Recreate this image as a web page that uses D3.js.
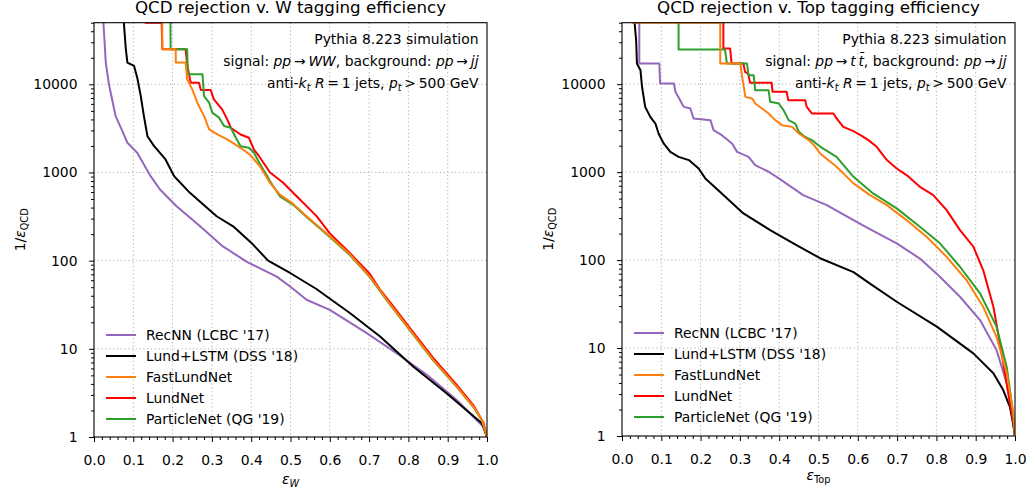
<!DOCTYPE html>
<html>
<head>
<meta charset="utf-8">
<script src="https://cdn.jsdelivr.net/npm/d3@7"></script>
<style>
  body{ margin:0; background:#fff; }
  svg{ display:block; font-family:"DejaVu Sans", sans-serif; }
</style>
</head>
<body>
<svg id="chart" width="1029" height="490"></svg>
<script>
// ---------- data ----------
const legendLabels = ["RecNN (LCBC '17)", "Lund+LSTM (DSS '18)", "FastLundNet", "LundNet", "ParticleNet (QG '19)"];
const seriesColors = ["#9467bd", "#000000", "#ff7f0e", "#ff0000", "#2ca02c"];
const drawOrder = [0, 1, 3, 4, 2];

const xMajor = [0, 0.1, 0.2, 0.3, 0.4, 0.5, 0.6, 0.7, 0.8, 0.9, 1.0];
const yMajor = [1, 10, 100, 1000, 10000];
const yMax = 5e4;

// W tagging: [efficiency, 1/eps_QCD]
const wRecNN = [[0.020,1e6],[0.024,5e4],[0.030,17650],[0.038,10000],[0.055,4350],[0.070,3100],[0.085,2175],[0.110,1675],[0.144,908],[0.168,641],[0.210,414],[0.270,245],[0.328,145],[0.389,97],[0.465,66],[0.499,51],[0.541,36],[0.600,27.7],[0.694,15.1],[0.770,8.9],[0.847,5.07],[0.923,2.63],[0.965,1.70],[0.991,1.31],[1,1]];
const wLundLSTM = [[0.074,1e6],[0.076,5e4],[0.081,25000],[0.085,17650],[0.102,16150],[0.110,11900],[0.119,7360],[0.127,4360],[0.136,2580],[0.153,1990],[0.182,1406],[0.204,908],[0.244,588],[0.312,319],[0.354,245],[0.400,160],[0.443,100],[0.500,72],[0.565,48],[0.651,25.5],[0.728,13.8],[0.812,6.3],[0.897,3.14],[0.957,1.86],[0.987,1.43],[1,1]];
const wFastLundNet = [[0.172,1e6],[0.174,25000],[0.208,25000],[0.208,17650],[0.233,17650],[0.237,11400],[0.250,8770],[0.263,6190],[0.280,4360],[0.293,3080],[0.314,2700],[0.339,2370],[0.373,1906],[0.397,1590],[0.422,1180],[0.448,760],[0.473,562],[0.507,440],[0.541,318],[0.600,189],[0.651,118],[0.702,66],[0.745,36],[0.804,16.4],[0.863,7.5],[0.923,3.73],[0.965,2.21],[0.987,1.56],[1,1]];
const wLundNet = [[0.129,1e6],[0.131,5e4],[0.172,5e4],[0.174,25000],[0.233,25000],[0.237,16900],[0.246,10450],[0.267,10450],[0.272,8610],[0.297,8610],[0.305,6760],[0.326,5200],[0.339,4000],[0.348,3220],[0.373,2700],[0.394,2480],[0.407,1820],[0.420,1530],[0.448,1000],[0.482,760],[0.524,493],[0.567,318],[0.600,204],[0.651,122],[0.702,70.6],[0.728,46.8],[0.762,30.2],[0.804,17.2],[0.863,7.9],[0.923,3.9],[0.965,2.3],[0.991,1.45],[1,1]];
const wParticleNet = [[0.193,1e6],[0.195,25000],[0.237,25000],[0.239,13000],[0.276,13000],[0.280,7360],[0.293,6190],[0.301,4770],[0.318,4190],[0.331,3360],[0.348,3220],[0.361,2480],[0.373,1990],[0.394,1906],[0.407,1675],[0.416,1406],[0.428,1130],[0.441,908],[0.448,795],[0.473,537],[0.507,430],[0.541,312],[0.600,186],[0.651,116],[0.702,65],[0.745,35.5],[0.804,16.2],[0.863,7.4],[0.923,3.7],[0.965,2.2],[0.987,1.55],[1,1]];

// Top tagging
const tRecNN = [[0.025,1e6],[0.027,5e4],[0.044,5e4],[0.044,17200],[0.095,17200],[0.097,10200],[0.132,10200],[0.136,8180],[0.148,6580],[0.157,5520],[0.174,5300],[0.182,4075],[0.225,3900],[0.233,3000],[0.254,2630],[0.280,2120],[0.293,1700],[0.322,1490],[0.339,1200],[0.373,1010],[0.399,848],[0.461,548],[0.521,422],[0.589,285],[0.626,231],[0.699,155],[0.758,104],[0.809,64.6],[0.860,38.3],[0.911,20.8],[0.953,9.5],[0.979,3.97],[0.992,1.81],[1,1]];
const tLundLSTM = [[0.030,1e6],[0.032,5e4],[0.036,31600],[0.038,17200],[0.047,14400],[0.051,9330],[0.059,5520],[0.072,4250],[0.085,3570],[0.093,2750],[0.106,2120],[0.123,1700],[0.144,1490],[0.170,1370],[0.195,1100],[0.212,848],[0.249,600],[0.309,339],[0.377,219],[0.436,155],[0.504,105],[0.589,73],[0.631,54],[0.699,33.6],[0.801,17.5],[0.894,8.7],[0.945,5.16],[0.970,3.33],[0.987,2.15],[0.995,1.39],[1,1]];
const tFastLundNet = [[0.028,1e6],[0.030,5e4],[0.250,5e4],[0.250,17200],[0.301,17200],[0.305,12650],[0.314,7170],[0.331,6880],[0.339,6030],[0.356,5300],[0.373,4650],[0.390,3900],[0.407,3420],[0.433,3270],[0.450,2750],[0.475,2310],[0.492,1940],[0.504,1630],[0.546,1150],[0.589,745],[0.631,548],[0.674,422],[0.724,285],[0.775,184],[0.826,109],[0.877,59],[0.919,29.5],[0.953,13.4],[0.979,5.2],[0.996,1.81],[1,1]];
const tLundNet = [[0.258,1e6],[0.258,25400],[0.275,25400],[0.279,17200],[0.309,17200],[0.313,13800],[0.321,13200],[0.326,10350],[0.381,10350],[0.383,8180],[0.419,8180],[0.423,6580],[0.466,6580],[0.470,5520],[0.483,4650],[0.538,4650],[0.546,4075],[0.563,3270],[0.589,2920],[0.611,2570],[0.627,2310],[0.648,1940],[0.674,1370],[0.699,1100],[0.724,925],[0.758,680],[0.792,548],[0.826,370],[0.860,219],[0.894,142],[0.919,77],[0.945,29.5],[0.966,8.7],[0.983,3.06],[0.996,1.39],[1,1]];
const tParticleNet = [[0.144,1e6],[0.144,24800],[0.262,24800],[0.267,17200],[0.318,17200],[0.322,12650],[0.335,12650],[0.339,8550],[0.373,8550],[0.377,6300],[0.399,6030],[0.411,5070],[0.424,3900],[0.441,3570],[0.450,2870],[0.466,2510],[0.483,2310],[0.505,1940],[0.546,1490],[0.589,885],[0.639,573],[0.699,387],[0.758,239],[0.809,155],[0.860,84],[0.911,41.9],[0.953,17.5],[0.979,6.1],[0.994,1.97],[1,1]];

// ---------- helpers ----------
const FS = 13.9;

// writes a list of text parts (italic / subscript) into a <text>
function richText(sel, parts, size){
  let down = false;
  parts.forEach(p=>{
    const ts = sel.append("tspan").text(p.t);
    if(p.i) ts.attr("font-style","italic");
    if(p.sub){
      ts.attr("font-size", size*0.7);
      if(!down){ ts.attr("dy", size*0.22); down = true; }
    } else if(down){
      ts.attr("dy", -size*0.22); down = false;
    }
  });
}

const svg = d3.select("#chart");

const panels = [
  {
    id:"w", x0:94, x1:487, yTop:22.7, yBot:437,
    series:[wRecNN, wLundLSTM, wFastLundNet, wLundNet, wParticleNet],
    title:"QCD rejection v. W tagging efficiency",
    signal:[{t:"signal: "},{t:"pp",i:true},{t:"\u2009\u2192\u2009"},{t:"WW",i:true},{t:", background: "},{t:"pp",i:true},{t:"\u2009\u2192\u2009"},{t:"jj",i:true}],
    xlab:[{t:"\u03b5",i:true},{t:"W",i:true,sub:true}], xlabY:484,
    ylabX:25, legX:106, legY:335
  },
  {
    id:"t", x0:622, x1:1015, yTop:22.7, yBot:436,
    series:[tRecNN, tLundLSTM, tFastLundNet, tLundNet, tParticleNet],
    title:"QCD rejection v. Top tagging efficiency",
    signal:[{t:"signal: "},{t:"pp",i:true},{t:"\u2009\u2192\u2009"},{t:"t\u2009t\u0304",i:true},{t:", background: "},{t:"pp",i:true},{t:"\u2009\u2192\u2009"},{t:"jj",i:true}],
    xlab:[{t:"\u03b5",i:true},{t:"Top",sub:true}], xlabY:480,
    ylabX:553, legX:634, legY:333
  }
];

const antiKt = [{t:"anti-"},{t:"k",i:true},{t:"t",i:true,sub:true},{t:" R",i:true},{t:"\u2009=\u20091 jets, "},{t:"p",i:true},{t:"t",i:true,sub:true},{t:"\u2009>\u2009500 GeV"}];

function drawPanel(P){
  const x = d3.scaleLinear().domain([0,1]).range([P.x0, P.x1]);
  const y = d3.scaleLog().domain([1, yMax]).range([P.yBot, P.yTop]);
  const g = svg.append("g");

  // grid
  const grid = g.append("g").attr("stroke","#b0b0b0").attr("stroke-width",1).attr("stroke-dasharray","1.2,2.6");
  xMajor.slice(1,-1).forEach(v=>{
    grid.append("line").attr("x1",x(v)).attr("x2",x(v)).attr("y1",P.yTop).attr("y2",P.yBot);
  });
  yMajor.slice(1).forEach(v=>{
    grid.append("line").attr("x1",P.x0).attr("x2",P.x1).attr("y1",y(v)).attr("y2",y(v));
  });

  // curves
  g.append("clipPath").attr("id","clip-"+P.id)
    .append("rect").attr("x",P.x0).attr("y",P.yTop).attr("width",P.x1-P.x0).attr("height",P.yBot-P.yTop);
  const line = d3.line().x(d=>x(d[0])).y(d=>y(d[1]));
  const curves = g.append("g").attr("clip-path","url(#clip-"+P.id+")");
  drawOrder.forEach(k=>{
    curves.append("path").attr("d", line(P.series[k]))
      .attr("fill","none").attr("stroke",seriesColors[k]).attr("stroke-width",2)
      .attr("stroke-linejoin","round");
  });

  // axes
  const xMinor = d3.range(0, 1.0001, 0.02).filter(v=>Math.abs(v*10-Math.round(v*10))>1e-6);
  const yMinor = [];
  for(let d=1; d<=10000; d*=10) for(let m=2; m<=9; m++) if(d*m<=yMax) yMinor.push(d*m);

  g.append("g").attr("transform",`translate(0,${P.yBot})`)
    .call(d3.axisBottom(x).tickValues(xMajor).tickFormat(d3.format(".1f")).tickSize(5).tickPadding(13.5));
  g.append("g").attr("transform",`translate(0,${P.yBot})`)
    .call(d3.axisBottom(x).tickValues(xMinor).tickFormat("").tickSize(3));
  g.append("g").attr("transform",`translate(${P.x0},0)`)
    .call(d3.axisLeft(y).tickValues(yMajor).tickFormat(d3.format("d")).tickSize(5).tickPadding(11.5));
  g.append("g").attr("transform",`translate(${P.x0},0)`)
    .call(d3.axisLeft(y).tickValues(yMinor).tickFormat("").tickSize(3));
  g.selectAll(".domain").remove();
  g.selectAll(".tick line").attr("stroke","#000").attr("stroke-width",1);
  g.selectAll(".tick text").attr("fill","#000").attr("font-size",FS).attr("font-family","DejaVu Sans");

  // frame
  g.append("rect").attr("x",P.x0).attr("y",P.yTop).attr("width",P.x1-P.x0).attr("height",P.yBot-P.yTop)
    .attr("fill","none").attr("stroke","#000").attr("stroke-width",1.1);

  // title
  g.append("text").attr("x",(P.x0+P.x1)/2).attr("y",13).attr("text-anchor","middle")
    .attr("font-size",16.7).text(P.title);

  // annotation block
  const ax2 = P.x1 - 8.5;
  g.append("text").attr("x",ax2).attr("y",43.5).attr("text-anchor","end").attr("font-size",FS)
    .text("Pythia 8.223 simulation");
  richText(g.append("text").attr("x",ax2).attr("y",65.5).attr("text-anchor","end").attr("font-size",FS), P.signal, FS);
  richText(g.append("text").attr("x",ax2).attr("y",87.5).attr("text-anchor","end").attr("font-size",FS), antiKt, FS);

  // axis labels
  richText(g.append("text").attr("x",(P.x0+P.x1)/2).attr("y",P.xlabY).attr("text-anchor","middle").attr("font-size",FS), P.xlab, FS);
  richText(g.append("text").attr("transform",`translate(${P.ylabX},${(P.yTop+P.yBot)/2}) rotate(-90)`)
    .attr("text-anchor","middle").attr("font-size",FS),
    [{t:"1/"},{t:"\u03b5",i:true},{t:"QCD",sub:true}], FS);

  // legend
  legendLabels.forEach((lab,k)=>{
    const yy = P.legY + k*21;
    g.append("line").attr("x1",P.legX).attr("x2",P.legX+30).attr("y1",yy).attr("y2",yy)
      .attr("stroke",seriesColors[k]).attr("stroke-width",2);
    g.append("text").attr("x",P.legX+40).attr("y",yy).attr("dy","0.35em").attr("font-size",FS).text(lab);
  });
}

panels.forEach(drawPanel);
</script>
</body>
</html>
